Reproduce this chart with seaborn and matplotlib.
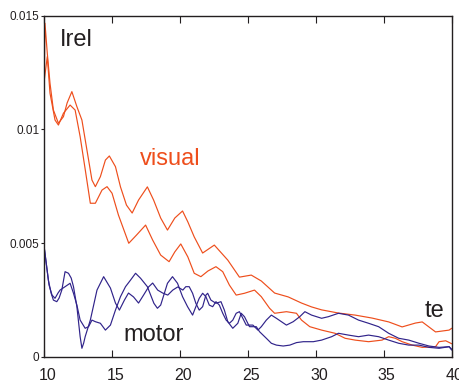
import matplotlib
matplotlib.use("Agg")
import matplotlib.pyplot as plt
import matplotlib.transforms as mtrans
import seaborn as sns
import pandas as pd

# ---------------- data ----------------
visual_hi_x = [10.00, 10.05, 10.22, 10.42, 10.67, 11.04, 11.41, 11.68, 12.03, 12.40,
               12.77, 13.14, 13.51, 13.76, 14.13, 14.50, 14.79, 15.24, 15.61, 16.05,
               16.47, 16.94, 17.59, 18.05, 18.57, 19.07, 19.61, 20.18, 20.57, 21.04,
               21.66, 22.52, 23.51, 24.37, 25.24, 25.98, 26.96, 27.96, 28.94, 29.68,
               30.42, 31.66, 32.89, 34.13, 35.36, 36.35, 37.33, 37.83, 38.81, 39.81, 40.00]
visual_hi_y = [0.01217, 0.01467, 0.01335, 0.01203, 0.01085, 0.01027, 0.01056, 0.01116, 0.01166, 0.01100,
               0.01041, 0.00909, 0.00777, 0.00748, 0.00792, 0.00865, 0.00883, 0.00836, 0.00747, 0.00667,
               0.00632, 0.00689, 0.00747, 0.00689, 0.00610, 0.00557, 0.00610, 0.00641, 0.00593, 0.00527,
               0.00456, 0.00491, 0.00425, 0.00350, 0.00359, 0.00333, 0.00280, 0.00263, 0.00236, 0.00219,
               0.00206, 0.00192, 0.00183, 0.00170, 0.00153, 0.00131, 0.00148, 0.00153, 0.00109, 0.00117, 0.00125]

visual_lo_x = [10.00, 10.22, 10.42, 10.79, 11.04, 11.41, 11.90, 12.27, 12.64, 13.02,
               13.39, 13.76, 14.25, 14.62, 14.99, 15.46, 16.22, 16.79, 17.46, 17.98,
               18.57, 19.19, 19.61, 20.05, 20.57, 21.04, 21.53, 22.05, 22.64, 23.14,
               23.63, 24.13, 24.74, 25.48, 25.98, 26.59, 26.96, 27.83, 28.57, 28.94,
               29.55, 30.42, 31.41, 32.15, 32.89, 33.88, 34.87, 35.36, 35.85, 36.35,
               37.09, 37.83, 38.81, 39.07, 39.56, 40.00]
visual_lo_y = [0.01217, 0.01320, 0.01159, 0.01041, 0.01019, 0.01071, 0.01107, 0.01085, 0.00968, 0.00821,
               0.00675, 0.00675, 0.00733, 0.00748, 0.00719, 0.00623, 0.00499, 0.00535, 0.00579, 0.00513,
               0.00447, 0.00418, 0.00461, 0.00496, 0.00439, 0.00367, 0.00352, 0.00377, 0.00396, 0.00374,
               0.00315, 0.00271, 0.00279, 0.00293, 0.00264, 0.00213, 0.00191, 0.00198, 0.00191, 0.00161,
               0.00132, 0.00117, 0.00103, 0.00081, 0.00073, 0.00066, 0.00073, 0.00088, 0.00081, 0.00066,
               0.00051, 0.00041, 0.00044, 0.00066, 0.00070, 0.00057]

motor_a_x = [10.00, 10.05, 10.30, 10.50, 10.67, 10.92, 11.09, 11.29, 11.53, 11.78,
             11.98, 12.15, 12.40, 12.64, 12.77, 12.90, 13.01, 13.39, 13.88, 14.37,
             14.87, 15.24, 15.53, 15.90, 16.20, 16.57, 16.94, 17.31, 17.68, 17.98,
             18.35, 18.72, 19.09, 19.46, 19.83, 20.20, 20.42, 20.67, 20.92, 21.16,
             21.41, 21.66, 21.90, 22.03, 22.27, 22.64, 23.01, 23.26, 23.51, 23.88,
             24.25, 24.50, 24.74, 25.11, 25.61, 25.85, 26.35, 26.72, 27.09, 27.59,
             28.08, 28.57, 29.07, 29.81, 30.42, 31.16, 31.66, 32.40, 33.14, 33.88,
             34.62, 35.36, 36.10, 36.84, 37.59, 38.33, 39.07, 39.81, 40.00]
motor_a_y = [0.00478, 0.00455, 0.00337, 0.00280, 0.00249, 0.00242, 0.00258, 0.00293, 0.00374, 0.00367,
             0.00346, 0.00308, 0.00220, 0.00088, 0.00037, 0.00060, 0.00088, 0.00161, 0.00293, 0.00352,
             0.00302, 0.00236, 0.00205, 0.00249, 0.00280, 0.00263, 0.00236, 0.00271, 0.00307, 0.00324,
             0.00293, 0.00280, 0.00271, 0.00293, 0.00307, 0.00293, 0.00308, 0.00308, 0.00279, 0.00235,
             0.00205, 0.00220, 0.00271, 0.00279, 0.00249, 0.00235, 0.00242, 0.00205, 0.00154, 0.00125,
             0.00147, 0.00191, 0.00176, 0.00132, 0.00132, 0.00110, 0.00081, 0.00059, 0.00051, 0.00047,
             0.00051, 0.00062, 0.00066, 0.00066, 0.00073, 0.00088, 0.00103, 0.00095, 0.00088, 0.00095,
             0.00088, 0.00073, 0.00059, 0.00051, 0.00051, 0.00041, 0.00037, 0.00044, 0.00029]

motor_b_x = [10.00, 10.13, 10.35, 10.57, 10.79, 11.01, 11.16, 11.53, 11.90, 12.15,
             12.40, 12.64, 13.01, 13.26, 13.51, 13.76, 14.13, 14.50, 14.87, 15.24,
             15.61, 15.98, 16.35, 16.72, 17.09, 17.59, 18.07, 18.33, 18.57, 19.07,
             19.44, 19.81, 20.18, 20.55, 20.92, 21.16, 21.41, 21.66, 21.90, 22.15,
             22.40, 22.64, 22.89, 23.14, 23.39, 23.63, 23.88, 24.13, 24.37, 24.62,
             24.87, 25.36, 25.73, 25.98, 26.35, 26.72, 27.09, 27.46, 27.83, 28.33,
             28.81, 29.19, 29.68, 30.42, 30.92, 31.66, 32.40, 33.14, 33.88, 34.62,
             35.36, 36.10, 36.84, 37.59, 38.33, 39.07, 39.81, 40.00]
motor_b_y = [0.00478, 0.00417, 0.00315, 0.00271, 0.00257, 0.00280, 0.00293, 0.00308, 0.00323, 0.00279,
             0.00227, 0.00161, 0.00125, 0.00132, 0.00161, 0.00154, 0.00147, 0.00117, 0.00139, 0.00205,
             0.00264, 0.00308, 0.00337, 0.00367, 0.00345, 0.00308, 0.00235, 0.00213, 0.00227, 0.00323,
             0.00352, 0.00323, 0.00264, 0.00220, 0.00183, 0.00220, 0.00257, 0.00279, 0.00264, 0.00227,
             0.00220, 0.00242, 0.00227, 0.00191, 0.00161, 0.00147, 0.00161, 0.00191, 0.00198, 0.00169,
             0.00139, 0.00139, 0.00117, 0.00132, 0.00161, 0.00183, 0.00169, 0.00154, 0.00139, 0.00154,
             0.00176, 0.00198, 0.00183, 0.00169, 0.00176, 0.00191, 0.00183, 0.00161, 0.00147, 0.00132,
             0.00103, 0.00081, 0.00073, 0.00059, 0.00047, 0.00041, 0.00044, 0.00033]

x_ticks = [10, 15, 20, 25, 30, 35, 40]
x_tick_labels = ["10", "15", "20", "25", "30", "35", "40"]
y_ticks = [0, 0.005, 0.01, 0.015]
y_tick_labels = ["0", "0.005", "0.01", "0.015"]

labels = ["Irel", "visual", "motor", "te"]
label_x = [11.12, 17.05, 15.85, 38.02]
label_y = [0.01367, 0.00843, 0.00071, 0.00176]

# ---------------- style ----------------
ORANGE = "#EE4E1C"
BLUE = "#30238A"
INK = "#231F20"

sns.set_theme(style="white")
plt.rcParams["font.family"] = ["Liberation Sans", "DejaVu Sans"]

fig = plt.figure(figsize=(4.59, 3.84), dpi=100)
ax = fig.add_axes([0.0965, 0.0711, 0.8876, 0.888])

curves = [
    (visual_hi_x, visual_hi_y, ORANGE),
    (visual_lo_x, visual_lo_y, ORANGE),
    (motor_a_x, motor_a_y, BLUE),
    (motor_b_x, motor_b_y, BLUE),
]
for cx, cy, col in curves:
    df = pd.DataFrame({"x": cx, "y": cy})
    sns.lineplot(data=df, x="x", y="y", ax=ax, color=col, lw=0.85,
                 estimator=None, sort=False, legend=False)

ax.set_xlim(10, 40)
ax.set_ylim(0, 0.015)
ax.set_xlabel("")
ax.set_ylabel("")

ax.set_xticks(x_ticks)
ax.set_xticklabels(x_tick_labels, fontsize=11.5, color=INK)
ax.set_yticks(y_ticks)
ax.set_yticklabels(y_tick_labels, fontsize=8.5, color=INK)

ax.tick_params(axis="x", direction="in", length=5, width=0.8, bottom=True, top=True,
               pad=8, colors=INK)
ax.tick_params(axis="y", direction="out", length=2.5, width=0.8, left=True, right=False,
               pad=1, colors=INK)

offset = mtrans.ScaledTranslation(3 / 100, 0, fig.dpi_scale_trans)
for lab in ax.get_xticklabels():
    lab.set_transform(lab.get_transform() + offset)

for sp in ax.spines.values():
    sp.set_visible(True)
    sp.set_color(INK)
    sp.set_linewidth(1.0)

label_colors = [INK, ORANGE, INK, INK]
for t, lx, ly, c in zip(labels, label_x, label_y, label_colors):
    ax.text(lx, ly, t, fontsize=17, color=c, ha="left", va="baseline")

fig.savefig("out.png", dpi=100)
